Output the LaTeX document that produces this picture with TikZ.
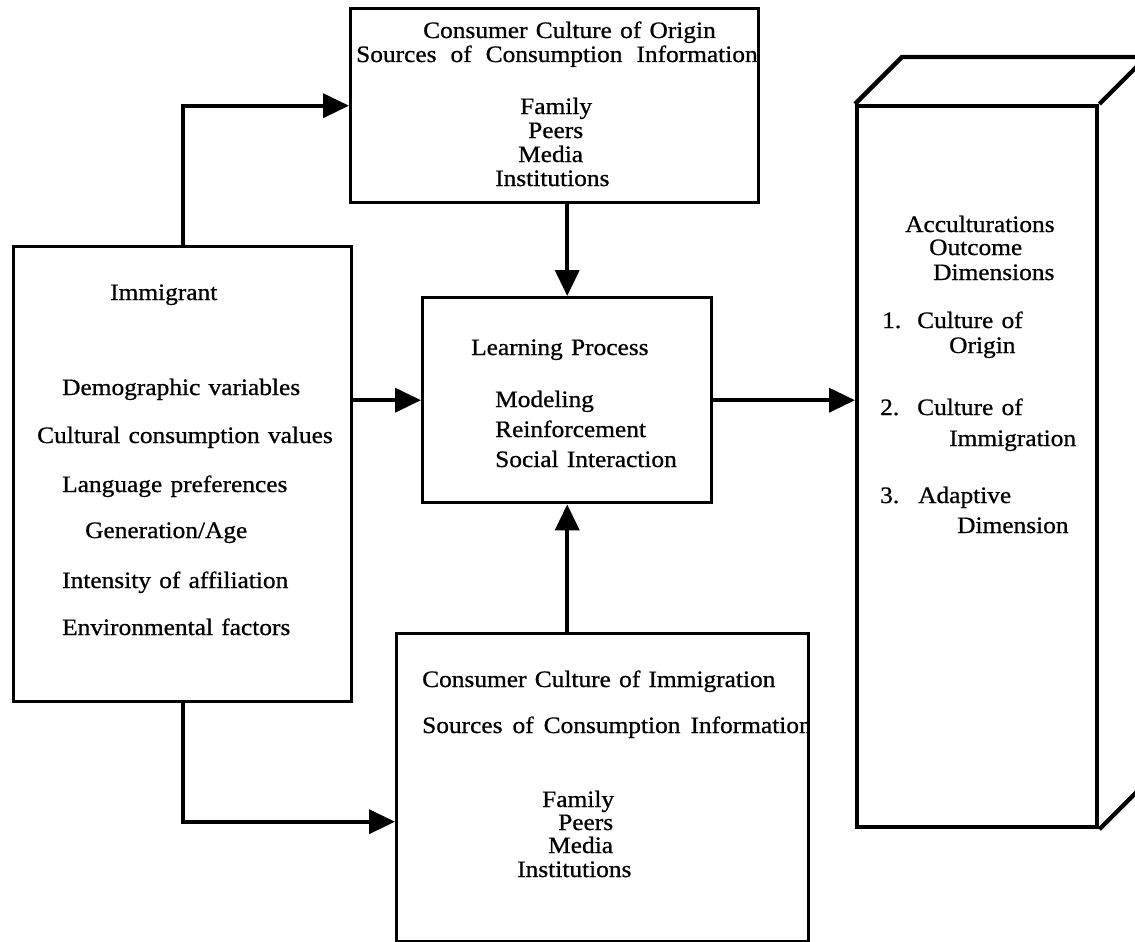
\documentclass[tikz,border=0pt]{standalone}
\usepackage{fontspec}
\setmainfont{Liberation Serif}[FakeStretch=1.08,WordSpace=1.3,FakeBold=0.8]
\usetikzlibrary{arrows.meta}

\begin{document}
\begin{tikzpicture}[x=1pt,y=-1pt,
  box/.style={draw,line width=3.4pt,inner sep=0pt,anchor=north west},
  cube/.style={draw,line width=4.3pt,line join=miter},
  txt/.style={anchor=base west,inner sep=0pt,font=\fontsize{23.5}{24}\selectfont},
  link/.style={line width=3.8pt,-{Triangle[length=26pt,width=24pt]}}]

\useasboundingbox (0,0) rectangle (1135,942);
\clip (0,0) rectangle (1135,942);

% ---- texts of the origin sources box (clipped to the frame) ----
\begin{scope}
  \clip (349,7) rectangle (757,201);
  \node[txt] (o1) at (423,38) {Consumer Culture of Origin};
  \node[txt] (o2) at (356,62) {Sources\hspace{14pt}of\hspace{14pt}Consumption\hspace{14pt}Information};
  \node[txt] (o3) at (520,114) {Family};
  \node[txt] (o4) at (528,138) {Peers};
  \node[txt] (o5) at (518,162) {Media};
  \node[txt] (o6) at (495,186) {Institutions};
\end{scope}

% ---- texts of the immigration sources box (clipped to the frame) ----
\begin{scope}
  \clip (395,632) rectangle (807,940);
  \node[txt] (m1) at (422,687) {Consumer Culture of Immigration};
  \node[txt] (m2) at (422,733) {Sources\hspace{10pt}of\hspace{10pt}Consumption\hspace{10pt}Information};
  \node[txt] (m3) at (542,807) {Family};
  \node[txt] (m4) at (558,830) {Peers};
  \node[txt] (m5) at (548,853) {Media};
  \node[txt] (m6) at (517,877) {Institutions};
\end{scope}

% ---- immigrant characteristics ----
\node[txt] (i0) at (110,300) {Immigrant};
\node[txt] (i1) at (62,395) {Demographic variables};
\node[txt] (i2) at (37,443) {Cultural consumption values};
\node[txt] (i3) at (62,492) {Language preferences};
\node[txt] (i4) at (85,538) {Generation/Age};
\node[txt] (i5) at (62,588) {Intensity of affiliation};
\node[txt] (i6) at (62,635) {Environmental factors};

% ---- learning process ----
\node[txt] (l0) at (471,355) {Learning Process};
\node[txt] (l1) at (495,407) {Modeling};
\node[txt] (l2) at (495,437) {Reinforcement};
\node[txt] (l3) at (495,467) {Social Interaction};

% ---- acculturation outcomes ----
\node[txt] (a0) at (905,232) {Acculturations};
\node[txt] (a1) at (929,255) {Outcome};
\node[txt] (a2) at (933,280) {Dimensions};
\node[txt] (n1) at (882,328) {1.};
\node[txt] (a3) at (917,328) {Culture of};
\node[txt] (a4) at (949,353) {Origin};
\node[txt] (n2) at (880,415) {2.};
\node[txt] (a5) at (917,415) {Culture of};
\node[txt] (a6) at (949,446) {Immigration};
\node[txt] (n3) at (880,503) {3.};
\node[txt] (a7) at (918,503) {Adaptive};
\node[txt] (a8) at (957,533) {Dimension};

% ---- frames ----
\node[box,minimum width=408pt,minimum height=194pt] (origin) at (349,7) {};
\node[box,minimum width=338pt,minimum height=455pt] (imm) at (12,245) {};
\node[box,minimum width=289pt,minimum height=205pt] (learn) at (421,296) {};
\node[box,minimum width=412pt,minimum height=308pt] (immig) at (395,632) {};
\node[box,line width=4.3pt,minimum width=240pt,minimum height=721pt] (accul) at (855,104) {};

% three-dimensional block behind the outcome frame
\draw[cube] (accul.north west) -- ++(47,-47) -- ++(300,0);
\draw[cube] (accul.north east) -- ++(48,-48);
\draw[cube] (accul.south east) -- ++(48,-48);

% ---- connectors ----
\coordinate (immigIn) at ([yshift=-34pt]immig.west);
\draw[link] (imm.north) |- (origin.west);
\draw[link] (imm.south) |- (immigIn);
\draw[link] (imm.east |- learn.west) -- (learn.west);
\draw[link] (learn.east) -- (accul.west |- learn.east);
\draw[link] (learn.north |- origin.south) -- (learn.north);
\draw[link] (learn.south |- immig.north) -- (learn.south);
\end{tikzpicture}
\end{document}
